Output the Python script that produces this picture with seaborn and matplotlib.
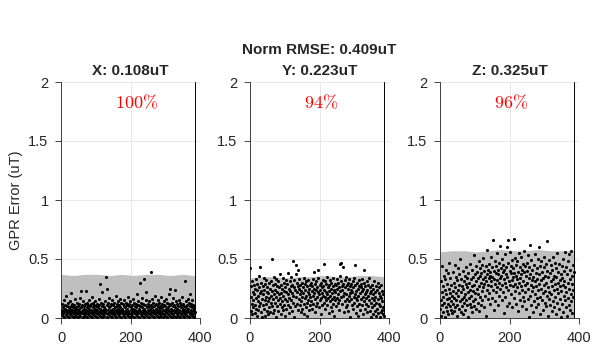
import numpy as np
import pandas as pd
import matplotlib
matplotlib.use('Agg')
import matplotlib.pyplot as plt
import seaborn as sns

# GPR error per sample, in 0.01 uT
x_err = [3, 7, 12, 5, 2, 9, 4, 15, 6, 1, 8, 11, 3, 6, 19, 4, 10, 2, 7, 13, 5, 9, 1, 6, 14, 8, 3, 21, 5, 10, 2, 7, 12, 4, 9,
         6, 1, 11, 8, 3, 16, 5, 9, 2, 13, 7, 4, 10, 1, 6, 12, 3, 8, 17, 5, 2, 9, 23, 6, 11, 4, 7, 1, 14, 8, 3, 10, 5, 12, 2,
         7, 23, 4, 9, 13, 1, 6, 11, 3, 8, 15, 5, 2, 10, 7, 12, 4, 18, 6, 1, 9, 3, 13, 7, 5, 11, 2, 8, 14, 4, 6, 10, 1, 12, 7,
         3, 9, 16, 5, 11, 2, 8, 29, 4, 13, 6, 1, 10, 22, 7, 3, 12, 5, 9, 2, 14, 6, 8, 4, 35, 25, 11, 1, 7, 13, 3, 9, 5, 17, 6,
         2, 10, 4, 12, 7, 1, 15, 5, 8, 3, 11, 6, 13, 2, 9, 4, 19, 7, 1, 10, 5, 12, 3, 8, 14, 6, 2, 11, 4, 9, 16, 1, 7, 13, 5,
         8, 3, 12, 6, 10, 2, 15, 4, 9, 1, 7, 13, 5, 11, 3, 8, 18, 2, 6, 12, 4, 10, 1, 14, 7, 3, 9, 5, 11, 2, 16, 6, 8, 4, 13,
         1, 10, 5, 7, 12, 3, 9, 20, 6, 2, 11, 4, 14, 8, 1, 30, 6, 10, 3, 13, 5, 9, 2, 17, 7, 4, 12, 1, 8, 33, 6, 11, 3, 15, 5,
         22, 9, 2, 12, 7, 4, 10, 1, 14, 6, 8, 3, 39, 11, 5, 9, 2, 16, 7, 4, 13, 1, 10, 6, 19, 3, 8, 12, 5, 2, 11, 7, 4, 15, 9,
         1, 6, 13, 3, 10, 8, 2, 18, 5, 12, 4, 9, 1, 7, 14, 3, 11, 6, 2, 10, 16, 5, 8, 1, 13, 4, 9, 7, 3, 12, 20, 6, 2, 25, 11,
         4, 8, 1, 13, 6, 10, 3, 17, 7, 2, 11, 5, 24, 9, 1, 14, 6, 3, 12, 8, 4, 10, 2, 15, 7, 5, 13, 1, 9, 3, 11, 6, 18, 4, 8,
         2, 12, 5, 10, 1, 31, 7, 3, 14, 9, 4, 11, 6, 2, 16, 8, 1, 13, 5, 10, 3, 20, 7, 12, 4, 9, 2, 15, 6, 11, 3, 8, 1, 10, 5]

y_err = [42, 18, 6, 27, 12, 31, 3, 22, 15, 9, 28, 20, 4, 25, 11, 33, 17, 8, 24, 2, 29, 14, 19, 7, 26, 36, 10, 21, 43, 13, 5, 30, 23, 16, 1,
         27, 11, 20, 34, 8, 24, 15, 2, 29, 18, 12, 32, 22, 6, 26, 14, 3, 21, 30, 9, 17, 25, 5, 31, 19, 13, 50, 23, 10, 28, 16, 4, 35, 20, 7,
         24, 13, 29, 18, 1, 33, 22, 10, 27, 15, 6, 31, 20, 26, 12, 37, 17, 3, 28, 21, 9, 25, 14, 34, 19, 7, 30, 23, 11, 2, 26, 16, 32, 8, 22,
         29, 14, 20, 38, 11, 25, 17, 4, 31, 23, 9, 27, 15, 35, 21, 6, 28, 13, 48, 19, 1, 26, 32, 10, 24, 45, 37, 18, 30, 12, 22, 7, 27, 41, 16,
         25, 33, 11, 20, 28, 5, 23, 14, 30, 18, 8, 26, 21, 34, 12, 3, 29, 17, 24, 9, 31, 19, 27, 13, 2, 22, 32, 15, 25, 7, 20, 28, 11, 18, 30,
         14, 23, 8, 27, 19, 33, 12, 39, 25, 21, 5, 29, 16, 10, 24, 31, 18, 26, 13, 34, 22, 41, 20, 9, 28, 15, 24, 3, 30, 17, 11, 26, 21, 32, 19,
         27, 13, 24, 46, 18, 31, 8, 22, 29, 15, 20, 35, 11, 26, 17, 4, 28, 23, 14, 32, 19, 9, 25, 30, 16, 21, 6, 27, 12, 34, 24, 18, 2, 29, 15,
         22, 10, 28, 33, 17, 25, 13, 30, 20, 7, 26, 15, 36, 23, 46, 31, 18, 47, 27, 12, 24, 43, 19, 29, 5, 21, 32, 14, 26, 9, 35, 20, 16, 28, 11,
         25, 30, 6, 19, 33, 14, 27, 21, 1, 24, 16, 29, 11, 22, 31, 8, 26, 18, 13, 34, 20, 45, 28, 4, 17, 23, 10, 30, 15, 25, 19, 2, 27, 12, 32,
         21, 7, 26, 16, 29, 11, 23, 33, 18, 3, 25, 14, 30, 41, 20, 8, 27, 17, 22, 12, 31, 5, 24, 19, 28, 10, 15, 34, 21, 6, 26, 13, 1, 23, 17,
         9, 28, 20, 3, 25, 15, 31, 11, 22, 6, 18, 27, 2, 13, 24, 8, 30, 16, 4, 21, 12, 26, 1, 19, 10, 28, 5, 17, 23, 7, 14, 3, 20, 9, 2]

z_err = [8, 31, 15, 2, 22, 44, 11, 27, 5, 18, 36, 13, 24, 1, 33, 9, 20, 41, 16, 6, 29, 12, 38, 3, 25, 17, 47, 10, 21, 34, 7, 14, 28, 19, 4,
         23, 39, 12, 30, 6, 17, 45, 26, 9, 35, 15, 21, 2, 32, 11, 42, 24, 19, 8, 37, 28, 14, 50, 5, 22, 33, 16, 27, 10, 40, 3, 25, 18, 31, 13,
         36, 20, 7, 29, 43, 15, 26, 11, 34, 22, 1, 38, 17, 30, 12, 46, 24, 9, 33, 19, 27, 5, 41, 14, 35, 23, 53, 10, 28, 37, 16, 21, 44, 8, 31,
         25, 39, 13, 34, 20, 48, 27, 6, 36, 18, 42, 30, 11, 38, 23, 45, 15, 33, 26, 51, 9, 40, 29, 35, 19, 44, 31, 2, 37, 24, 58, 28, 16, 41, 34,
         21, 46, 36, 12, 39, 27, 52, 31, 43, 17, 35, 66, 24, 40, 7, 33, 48, 29, 14, 38, 44, 22, 32, 55, 26, 41, 11, 37, 30, 47, 19, 34, 61, 25, 42,
         36, 28, 50, 15, 39, 45, 22, 33, 4, 41, 30, 54, 18, 37, 26, 43, 10, 35, 60, 66, 24, 47, 31, 13, 40, 28, 56, 20, 38, 44, 9, 32, 49, 27, 35,
         42, 17, 38, 67, 29, 51, 23, 36, 12, 45, 33, 26, 48, 6, 39, 30, 55, 21, 43, 15, 34, 27, 52, 37, 10, 41, 24, 46, 31, 18, 39, 57, 14, 28, 44,
         22, 36, 8, 47, 30, 40, 16, 53, 25, 34, 1, 43, 62, 19, 37, 28, 11, 49, 32, 23, 41, 5, 35, 26, 45, 14, 31, 54, 20, 38, 9, 27, 42, 17, 33,
         24, 50, 12, 60, 29, 37, 18, 44, 3, 32, 25, 48, 15, 39, 21, 34, 7, 43, 28, 52, 13, 36, 23, 46, 10, 30, 19, 65, 40, 2, 26, 35, 16, 49, 22,
         38, 11, 31, 45, 20, 27, 6, 41, 33, 14, 52, 24, 36, 9, 29, 47, 18, 35, 3, 42, 25, 13, 55, 30, 21, 39, 8, 46, 16, 32, 27, 1, 37, 23, 44,
         12, 34, 28, 50, 5, 40, 19, 31, 56, 15, 26, 43, 9, 22, 37, 2, 48, 17, 30, 54, 11, 25, 41, 7, 33, 20, 57, 14, 36, 4, 29, 45, 18, 24, 39]

# uncertainty band (uT), sampled every 35 samples
band_idx = [0, 35, 70, 105, 140, 175, 210, 245, 280, 315, 350, 385]
band_x = [0.37, 0.36, 0.37, 0.37, 0.36, 0.37, 0.36, 0.37, 0.37, 0.36, 0.37, 0.36]
band_y = [0.34, 0.35, 0.35, 0.34, 0.35, 0.35, 0.36, 0.35, 0.35, 0.36, 0.36, 0.35]
band_z = [0.56, 0.57, 0.57, 0.56, 0.57, 0.58, 0.57, 0.57, 0.58, 0.57, 0.57, 0.57]

titles = ['X: 0.108uT', 'Y: 0.223uT', 'Z: 0.325uT']
coverage = ['100', '94', '96']
suptitle = 'Norm RMSE: 0.409uT'

sns.set_style('ticks')
plt.rcParams['font.family'] = ['Liberation Sans', 'DejaVu Sans']

W, H = 598, 354
fig = plt.figure(figsize=(W / 100, H / 100), dpi=100)
lefts = [61, 250, 440]

for i, (err, band) in enumerate(zip([x_err, y_err, z_err], [band_x, band_y, band_z])):
    ax = fig.add_axes([lefts[i] / W, 36 / H, 139 / W, 236 / H])
    df = pd.DataFrame({'idx': np.arange(1, len(err) + 1), 'err': np.array(err) / 100})

    ax.grid(True, color='#e3e3e3', lw=0.6)
    ax.set_axisbelow(True)
    ax.fill_between(band_idx, 0, band, color='#bfbfbf', lw=0, zorder=1)
    sns.scatterplot(data=df, x='idx', y='err', ax=ax, color='black', s=5,
                    linewidth=0, zorder=3)
    ax.axvline(len(err), color='black', lw=0.7, zorder=4)

    ax.set_xlim(0, 400)
    ax.set_ylim(0, 2)
    ax.set_xticks([0, 200, 400])
    ax.set_yticks([0, 0.5, 1, 1.5, 2])
    ax.set_yticklabels(['0', '0.5', '1', '1.5', '2'])
    for s in ['top', 'right']:
        ax.spines[s].set_visible(False)
    for s in ['left', 'bottom']:
        ax.spines[s].set_color('#262626')
        ax.spines[s].set_linewidth(0.6)
    ax.tick_params(direction='out', length=4, width=0.6, colors='#262626',
                   labelsize=10.5, pad=5)
    ax.set_xlabel('')
    ax.set_ylabel('GPR Error (uT)' if i == 0 else '', fontsize=10.5, color='#262626')
    ax.set_title(titles[i], fontweight='bold', fontsize=11, pad=5)
    ax.text(155, 1.82, r'$' + coverage[i] + r'\%$', color='red', fontsize=13,
            math_fontfamily='cm', va='center', ha='left')

fig.text((250 + 139 / 2) / W, 1 - 50 / H, suptitle, ha='center', va='center',
         fontweight='bold', fontsize=11)

fig.savefig('out.png', dpi=100)
